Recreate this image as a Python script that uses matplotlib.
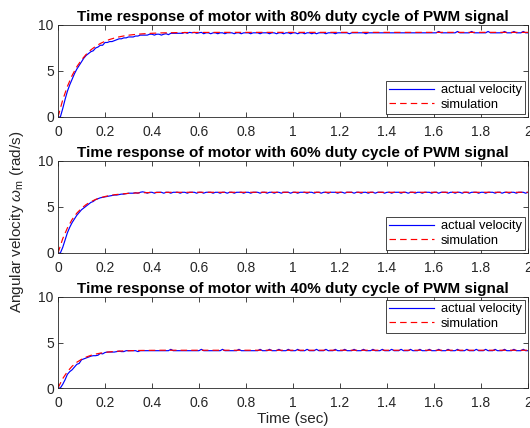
import numpy as np
import matplotlib
matplotlib.use("Agg")
import matplotlib.pyplot as plt

plt.rcParams['font.family'] = ['Liberation Sans', 'DejaVu Sans']
plt.rcParams['mathtext.fontset'] = 'custom'
plt.rcParams['mathtext.it'] = 'Liberation Sans:italic'
plt.rcParams['mathtext.rm'] = 'Liberation Sans'

duty_titles = ["Time response of motor with 80% duty cycle of PWM signal",
               "Time response of motor with 60% duty cycle of PWM signal",
               "Time response of motor with 40% duty cycle of PWM signal"]
legend_labels = ["actual velocity", "simulation"]
x_ticks = [0, 0.2, 0.4, 0.6, 0.8, 1, 1.2, 1.4, 1.6, 1.8, 2]
x_tick_labels = ["0", "0.2", "0.4", "0.6", "0.8", "1", "1.2", "1.4", "1.6", "1.8", "2"]
y_ticks = [0, 5, 10]

# measured time base (0.01 s sampling)
t_act = np.linspace(0, 2, 201)
# simulation time points
t_sim = [0, 0.02, 0.04, 0.06, 0.08, 0.10, 0.12, 0.14, 0.16, 0.18,
         0.20, 0.22, 0.24, 0.26, 0.28, 0.30, 0.32, 0.34, 0.36, 0.38,
         0.40, 0.42, 0.44, 0.46, 0.48, 0.50, 0.55, 0.60, 0.70, 0.80,
         1.0, 1.2, 1.4, 1.6, 1.8, 2.0]

sim80 = [0, 1.85, 3.33, 4.51, 5.46, 6.21, 6.81, 7.30, 7.68, 7.99,
         8.23, 8.43, 8.58, 8.71, 8.81, 8.89, 8.95, 9.00, 9.04, 9.07,
         9.10, 9.12, 9.14, 9.15, 9.16, 9.17, 9.18, 9.19, 9.2, 9.2,
         9.2, 9.2, 9.2, 9.2, 9.2, 9.2]
sim60 = [0, 1.55, 2.72, 3.64, 4.33, 4.86, 5.27, 5.58, 5.82, 6.00,
         6.14, 6.25, 6.33, 6.39, 6.44, 6.48, 6.51, 6.53, 6.55, 6.56,
         6.57, 6.58, 6.59, 6.59, 6.6, 6.6, 6.6, 6.6, 6.6, 6.6,
         6.6, 6.6, 6.6, 6.6, 6.6, 6.6]
sim40 = [0, 1.03, 1.80, 2.39, 2.83, 3.15, 3.40, 3.59, 3.73, 3.83,
         3.91, 3.97, 4.02, 4.05, 4.08, 4.09, 4.11, 4.12, 4.13, 4.13,
         4.14, 4.14, 4.15, 4.15, 4.15, 4.15, 4.15, 4.15, 4.15, 4.15,
         4.15, 4.15, 4.15, 4.15, 4.15, 4.15]

act80 = [0, 0, 0.9, 1.9, 2.8, 3.5, 4.1, 4.7, 5.2, 5.6,
         6.0, 6.4, 6.7, 6.9, 7.1, 7.2, 7.5, 7.6, 7.8, 7.8,
         8.1, 8.1, 8.2, 8.2, 8.3, 8.4, 8.5, 8.5, 8.6, 8.6,
         8.7, 8.7, 8.7, 8.8, 8.8, 8.9, 8.9, 8.9, 8.9, 9.0,
         9.0, 8.9, 9.0, 9.0, 8.9, 9.0, 9.05, 8.95, 9.1, 9.1,
         9.1, 9.1, 9.1, 9.1, 9.2, 9.1, 9.2, 9.15, 9.2, 9.1,
         9.15, 9.2, 9.05, 9.15, 9.15, 9.05, 9.15, 9.15, 9.05, 9.15,
         9.15, 9.05, 9.15, 9.15, 9.15, 9.05, 9.15, 9.15, 9.05, 9.15,
         9.15, 9.15, 9.05, 9.15, 9.15, 9.15, 9.05, 9.15, 9.15, 9.15,
         9.05, 9.15, 9.15, 9.05, 9.15, 9.15, 9.05, 9.15, 9.15, 9.05,
         9.15, 9.15, 9.05, 9.15, 9.15, 9.05, 9.15, 9.15, 9.05, 9.15,
         9.05, 9.15, 9.15, 9.15, 9.05, 9.15, 9.15, 9.15, 9.05, 9.15,
         9.15, 9.15, 9.15, 9.15, 9.05, 9.15, 9.15, 9.15, 9.15, 9.15,
         9.15, 9.05, 9.15, 9.15, 9.15, 9.15, 9.15, 9.15, 9.15, 9.15,
         9.15, 9.15, 9.15, 9.15, 9.15, 9.15, 9.15, 9.15, 9.15, 9.15,
         9.15, 9.15, 9.15, 9.15, 9.15, 9.15, 9.15, 9.15, 9.15, 9.15,
         9.15, 9.15, 9.3, 9.15, 9.15, 9.15, 9.15, 9.15, 9.15, 9.15,
         9.3, 9.15, 9.15, 9.15, 9.15, 9.15, 9.3, 9.15, 9.15, 9.15,
         9.15, 9.15, 9.15, 9.3, 9.15, 9.15, 9.15, 9.15, 9.15, 9.15,
         9.3, 9.15, 9.15, 9.15, 9.3, 9.15, 9.15, 9.15, 9.3, 9.15,
         9.15]

act60 = [0, 0, 0.6, 1.4, 2.2, 2.8, 3.3, 3.7, 4.1, 4.4,
         4.7, 4.9, 5.1, 5.3, 5.5, 5.6, 5.8, 5.9, 6.0, 6.05,
         6.1, 6.15, 6.2, 6.25, 6.3, 6.3, 6.35, 6.4, 6.4, 6.45,
         6.5, 6.5, 6.5, 6.55, 6.5, 6.6, 6.65, 6.6, 6.5, 6.6,
         6.6, 6.5, 6.6, 6.6, 6.6, 6.5, 6.6, 6.6, 6.5, 6.6,
         6.6, 6.6, 6.5, 6.6, 6.6, 6.5, 6.6, 6.6, 6.6, 6.5,
         6.6, 6.6, 6.5, 6.6, 6.6, 6.6, 6.5, 6.6, 6.6, 6.5,
         6.6, 6.6, 6.5, 6.6, 6.6, 6.5, 6.6, 6.6, 6.6, 6.5,
         6.6, 6.6, 6.5, 6.6, 6.6, 6.6, 6.5, 6.6, 6.6, 6.5,
         6.6, 6.6, 6.5, 6.6, 6.6, 6.5, 6.6, 6.6, 6.6, 6.5,
         6.6, 6.6, 6.5, 6.6, 6.6, 6.6, 6.5, 6.6, 6.6, 6.5,
         6.6, 6.6, 6.5, 6.6, 6.6, 6.5, 6.6, 6.6, 6.6, 6.5,
         6.6, 6.6, 6.5, 6.6, 6.6, 6.6, 6.5, 6.6, 6.6, 6.5,
         6.6, 6.6, 6.5, 6.6, 6.6, 6.5, 6.6, 6.6, 6.6, 6.5,
         6.6, 6.6, 6.5, 6.6, 6.6, 6.6, 6.5, 6.6, 6.6, 6.5,
         6.6, 6.6, 6.5, 6.6, 6.6, 6.5, 6.6, 6.6, 6.6, 6.5,
         6.6, 6.6, 6.5, 6.6, 6.6, 6.6, 6.5, 6.6, 6.6, 6.5,
         6.6, 6.6, 6.5, 6.6, 6.6, 6.5, 6.6, 6.6, 6.6, 6.5,
         6.6, 6.6, 6.5, 6.6, 6.6, 6.6, 6.5, 6.6, 6.6, 6.5,
         6.6, 6.6, 6.5, 6.6, 6.6, 6.5, 6.6, 6.6, 6.6, 6.5,
         6.6]

act40 = [0, 0, 0.4, 0.9, 1.5, 1.8, 2.0, 2.3, 2.6, 2.7,
         3.1, 3.2, 3.3, 3.4, 3.5, 3.55, 3.55, 3.6, 3.8, 3.75,
         3.9, 3.95, 3.95, 3.95, 3.95, 4.0, 4.05, 4.0, 4.0, 4.1,
         4.1, 4.1, 4.1, 4.1, 4.0, 4.1, 4.1, 4.1, 4.1, 4.1,
         4.1, 4.1, 4.1, 4.1, 4.1, 4.1, 4.1, 4.1, 4.25, 4.1,
         4.1, 4.1, 4.1, 4.1, 4.1, 4.1, 4.1, 4.1, 4.1, 4.1,
         4.1, 4.25, 4.1, 4.1, 4.1, 4.1, 4.1, 4.1, 4.1, 4.1,
         4.25, 4.1, 4.1, 4.1, 4.1, 4.1, 4.1, 4.25, 4.1, 4.1,
         4.1, 4.1, 4.1, 4.1, 4.1, 4.1, 4.25, 4.1, 4.1, 4.1,
         4.25, 4.1, 4.1, 4.1, 4.25, 4.1, 4.1, 4.1, 4.25, 4.1,
         4.1, 4.1, 4.25, 4.1, 4.1, 4.1, 4.25, 4.1, 4.1, 4.1,
         4.25, 4.1, 4.1, 4.1, 4.25, 4.1, 4.1, 4.1, 4.25, 4.1,
         4.1, 4.1, 4.25, 4.1, 4.1, 4.1, 4.25, 4.1, 4.1, 4.1,
         4.25, 4.1, 4.1, 4.1, 4.25, 4.1, 4.1, 4.1, 4.25, 4.1,
         4.1, 4.1, 4.25, 4.1, 4.1, 4.1, 4.25, 4.1, 4.1, 4.1,
         4.25, 4.1, 4.1, 4.1, 4.25, 4.1, 4.1, 4.1, 4.25, 4.1,
         4.1, 4.1, 4.25, 4.1, 4.1, 4.1, 4.25, 4.1, 4.1, 4.1,
         4.25, 4.1, 4.1, 4.1, 4.25, 4.1, 4.1, 4.1, 4.25, 4.1,
         4.1, 4.1, 4.25, 4.1, 4.1, 4.1, 4.25, 4.1, 4.1, 4.1,
         4.25, 4.1, 4.1, 4.1, 4.25, 4.1, 4.1, 4.1, 4.25, 4.1,
         4.1]

actual_series = [act80, act60, act40]
sim_series = [sim80, sim60, sim40]
legend_locs = ["lower right", "lower right", "upper right"]

W, H = 530, 428
fig = plt.figure(figsize=(W / 100, H / 100), dpi=100)

boxes = [(25, 117), (161, 253), (297, 388)]  # (top, bottom) in pixels
left_px, right_px = 58, 528
dark = '#262626'

for i, (top, bottom) in enumerate(boxes):
    ax = fig.add_axes([left_px / W, 1 - bottom / H,
                       (right_px - left_px) / W, (bottom - top) / H])
    ax.plot(t_act, actual_series[i], color='#0000ff', lw=0.85,
            label=legend_labels[0])
    ax.plot(t_sim, sim_series[i], color='#ff0000', lw=0.85, ls=(0, (5.5, 3.5)),
            label=legend_labels[1])
    ax.set_xlim(0, 2)
    ax.set_ylim(0, 10)
    ax.set_xticks(x_ticks)
    ax.set_xticklabels(x_tick_labels)
    ax.set_yticks(y_ticks)
    ax.tick_params(direction='in', top=True, right=True, labelsize=10,
                   length=3.5, width=0.6, colors=dark, labelcolor=dark)
    ax.tick_params(axis='x', pad=5.5)
    ax.tick_params(axis='y', pad=3)
    for sp in ax.spines.values():
        sp.set_linewidth(0.6)
        sp.set_color(dark)
    ax.set_title(duty_titles[i], fontsize=11, fontweight='bold', pad=3)
    leg = ax.legend(loc=legend_locs[i], fontsize=9.3, fancybox=False,
                    framealpha=1, edgecolor=dark, handlelength=3.5,
                    borderaxespad=0.25, labelspacing=0.22, borderpad=0.22,
                    handletextpad=0.55)
    leg.get_frame().set_linewidth(0.6)
    if i == 2:
        ax.set_xlabel("Time (sec)", fontsize=11, labelpad=2, color=dark)

fig.text(17 / W, 1 - 222 / H, r"Angular velocity $\omega_{\rm m}$ (rad/s)",
         rotation=90, ha='center', va='center', fontsize=11, color=dark)

fig.savefig("out.png", dpi=100)
